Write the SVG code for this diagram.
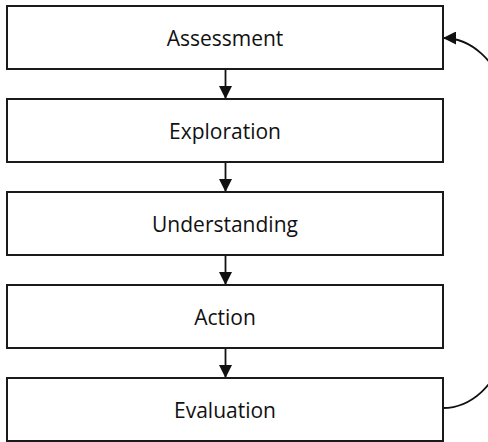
<svg xmlns="http://www.w3.org/2000/svg" width="488" height="442" viewBox="0 0 488 442">
<style>
.box{fill:#fff;stroke:#1a1a1a;stroke-width:2}
.lbl{font-family:"Open Sans","Liberation Sans",sans-serif;font-size:21px;fill:#111;text-anchor:middle}
.edge{fill:none;stroke:#111;stroke-width:1.8}
</style>
<defs>
<marker id="ah" markerUnits="userSpaceOnUse" markerWidth="13" markerHeight="13" refX="12.5" refY="6.5" orient="auto" viewBox="0 0 13 13">
<path d="M0,0 L13,6.5 L0,13 z" fill="#111"/>
</marker>
</defs>
<rect width="488" height="442" fill="#fff"/>
<g id="connectors">
<line class="edge" x1="225.5" y1="69" x2="225.5" y2="98.5" marker-end="url(#ah)"/>
<line class="edge" x1="225.5" y1="162" x2="225.5" y2="191.5" marker-end="url(#ah)"/>
<line class="edge" x1="225.5" y1="255" x2="225.5" y2="284.5" marker-end="url(#ah)"/>
<line class="edge" x1="225.5" y1="348" x2="225.5" y2="377.5" marker-end="url(#ah)"/>
<path class="edge" d="M443,408 C560,408 560,38 443.5,38" marker-end="url(#ah)"/>
</g>
<g id="assessment"><rect class="box" x="7" y="6" width="436" height="63"/><text class="lbl" x="225" y="45.5">Assessment</text></g>
<g id="exploration"><rect class="box" x="7" y="99" width="436" height="63"/><text class="lbl" x="225" y="138.5">Exploration</text></g>
<g id="understanding"><rect class="box" x="7" y="192" width="436" height="63"/><text class="lbl" x="225" y="231.5">Understanding</text></g>
<g id="action"><rect class="box" x="7" y="285" width="436" height="63"/><text class="lbl" x="225" y="324.5">Action</text></g>
<g id="evaluation"><rect class="box" x="7" y="378" width="436" height="63"/><text class="lbl" x="225" y="417.5">Evaluation</text></g>
</svg>
